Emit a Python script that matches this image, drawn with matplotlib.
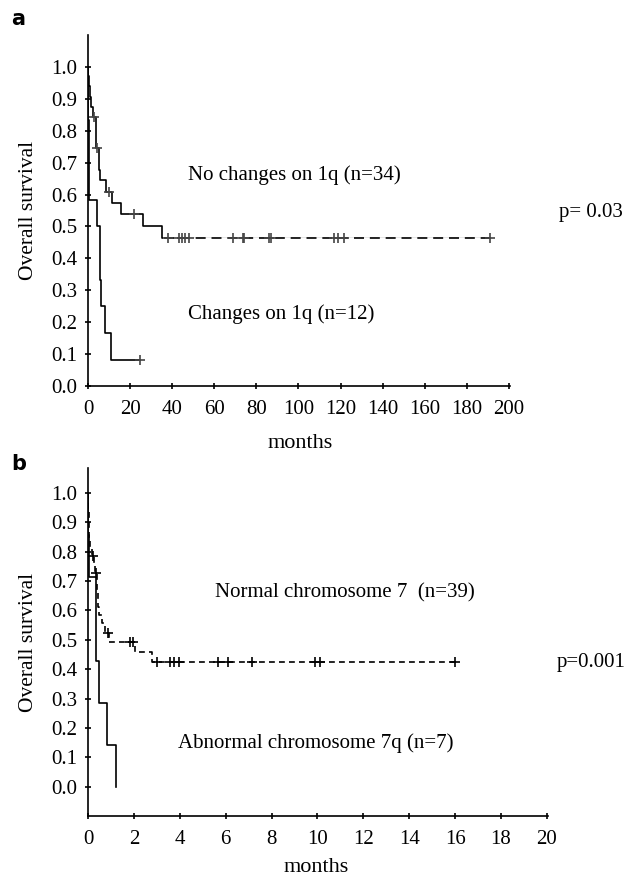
import numpy as np
import matplotlib
matplotlib.use("Agg")
import matplotlib.pyplot as plt

plt.rcParams['font.family'] = ['Liberation Serif', 'DejaVu Serif']

# panel a: drop times (months) and survival after each drop
a_hi_t = [0, 0.2, 0.5, 0.8, 1.6, 2.5, 3.6, 3.8, 4.0, 5.0, 5.2, 5.7, 8.4, 11.4, 15.7, 26.0, 35.2]
a_hi_s = [1.0, 0.97, 0.94, 0.907, 0.875, 0.843, 0.81, 0.778, 0.745, 0.711, 0.677, 0.645, 0.609, 0.575, 0.538, 0.501, 0.463]
a_hi_end = 191
a_hi_cens = [2.9, 4.4, 9.9, 22, 38, 43, 44.5, 46, 48, 68.7, 73.5, 74.3, 86, 87, 116.7, 119, 121.5, 191]

a_lo_t = [0, 0.1, 0.2, 0.3, 0.4, 0.6, 4.4, 5.8, 5.9, 6.0, 7.9, 10.8]
a_lo_s = [1.0, 0.917, 0.833, 0.75, 0.667, 0.583, 0.5, 0.417, 0.333, 0.25, 0.167, 0.083]
a_lo_end = 24.8
a_lo_cens = [24.8]

# panel b
b_hi_t = [0, 0.01, 0.02, 0.03, 0.04, 0.05, 0.06, 0.07, 0.16, 0.25, 0.3, 0.38, 0.40, 0.42, 0.45, 0.48, 0.61, 0.72, 0.92, 2.05, 2.79]
b_hi_s = [1.0, 0.974, 0.949, 0.923, 0.897, 0.872, 0.846, 0.812, 0.785, 0.755, 0.727, 0.70, 0.67, 0.64, 0.61, 0.584, 0.556, 0.523, 0.492, 0.458, 0.423]
b_hi_end = 16
b_hi_cens = [0.2, 0.37, 0.85, 1.82, 1.96, 3.02, 3.57, 3.75, 3.98, 5.68, 6.12, 7.13, 9.9, 10.1, 16]

b_lo_t = [0, 0.02, 0.04, 0.33, 0.35, 0.48, 0.84, 1.2]
b_lo_s = [1.0, 0.857, 0.714, 0.571, 0.429, 0.286, 0.143, 0.0]
b_lo_end = 1.2

yticks = [0.0, 0.1, 0.2, 0.3, 0.4, 0.5, 0.6, 0.7, 0.8, 0.9, 1.0]


def km(ax, t, s, end, cens=None, split=None, mcolor='#444444', **kw):
    t = list(t) + [end]
    s = list(s) + [s[-1]]
    if split is None:
        ax.step(t, s, where='post', color='black', lw=1.2, **kw)
    else:
        # solid part up to split, dashed afterwards
        ax.step(t, s, where='post', color='black', lw=1.2)
        ax.plot([split, end], [s[-1], s[-1]], color='white', lw=2)
        ax.plot([split, end], [s[-1], s[-1]], color='black', lw=1.2, dashes=(6, 3.5))
    if cens:
        idx = np.searchsorted(t[:-1], cens, side='right') - 1
        ax.plot(cens, np.array(s)[idx], ls='none', marker='+', ms=7, mew=1.2,
                color=mcolor, zorder=3)


def style(ax):
    ax.spines['top'].set_visible(False)
    ax.spines['right'].set_visible(False)
    ax.spines['left'].set_linewidth(1.2)
    ax.spines['bottom'].set_linewidth(1.2)
    ax.tick_params(direction='inout', length=4, width=1.2, labelsize=15, pad=6)
    ax.tick_params(axis='x', pad=8)
    ax.set_yticks(yticks)
    ax.set_yticklabels(["%.1f" % v for v in yticks])
    ax.set_ylabel("Overall survival", fontsize=15.5, labelpad=9)


fig = plt.figure(figsize=(6.3, 8.8), dpi=100)

ax1 = fig.add_axes([88 / 630, 1 - 386 / 880, 422 / 630, 351 / 880])
km(ax1, a_hi_t, a_hi_s, a_hi_end, a_hi_cens, split=36)
km(ax1, a_lo_t, a_lo_s, a_lo_end, a_lo_cens)
ax1.set_xlim(0, 200.5)
ax1.set_ylim(0, 1.10)
ax1.set_xticks(range(0, 201, 20))
style(ax1)
ax1.text(47.6, 0.661, "No changes on 1q (n=34)", fontsize=15, va='center')
ax1.text(47.6, 0.226, "Changes on 1q (n=12)", fontsize=15, va='center')

ax2 = fig.add_axes([88 / 630, 1 - 816 / 880, 460 / 630, 348 / 880])
km(ax2, b_hi_t, b_hi_s, b_hi_end, b_hi_cens, mcolor='black', dashes=(3.5, 2.5))
km(ax2, b_lo_t, b_lo_s, b_lo_end)
ax2.set_xlim(0, 20.05)
ax2.set_ylim(-0.1, 1.085)
ax2.set_xticks(range(0, 21, 2))
style(ax2)
ax2.text(5.53, 0.659, "Normal chromosome 7  (n=39)", fontsize=15, va='center')
ax2.text(3.92, 0.147, "Abnormal chromosome 7q (n=7)", fontsize=15, va='center')

fig.text(300 / 630, 1 - 443 / 880, "months", fontsize=16, ha='center', va='center')
fig.text(316 / 630, 1 - 867 / 880, "months", fontsize=16, ha='center', va='center')
fig.text(559 / 630, 1 - 212 / 880, "p= 0.03", fontsize=15, va='center')
fig.text(557 / 630, 1 - 662 / 880, "p=0.001", fontsize=15, va='center')
fig.text(11 / 630, 1 - 19 / 880, "a", fontsize=15, fontweight='bold', family='DejaVu Sans', va='center')
fig.text(11 / 630, 1 - 464 / 880, "b", fontsize=15, fontweight='bold', family='DejaVu Sans', va='center')

fig.savefig("out.png", dpi=100)
